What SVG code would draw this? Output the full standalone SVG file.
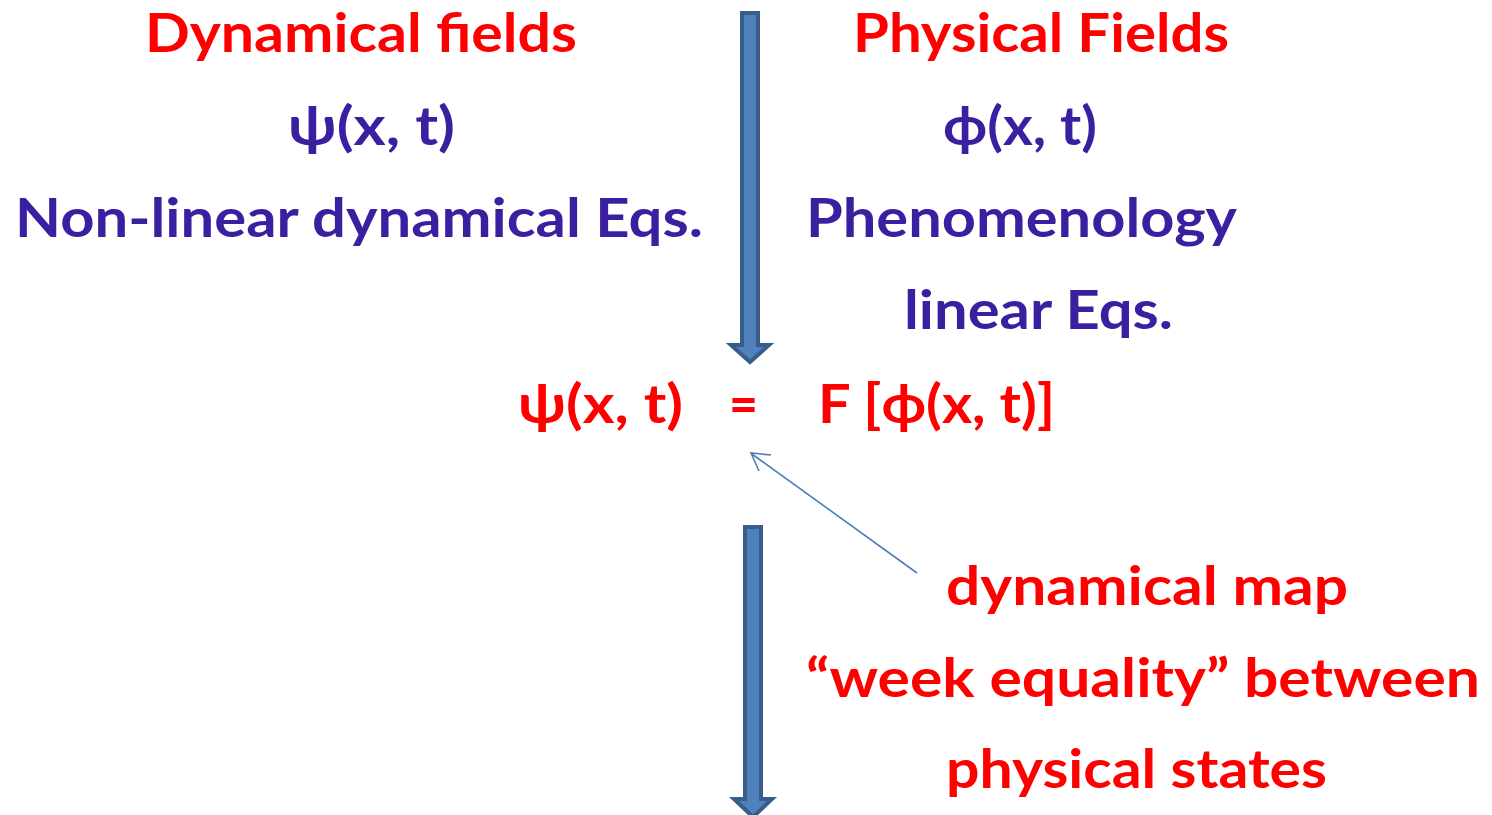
<svg xmlns="http://www.w3.org/2000/svg" width="1492" height="815" viewBox="0 0 1492 815">
<style>
text{font-family:Lato,"Open Sans","DejaVu Sans",sans-serif;font-weight:bold;font-size:54px}
.r{fill:#FF0000}
.b{fill:#3A1FA0}
.big{fill:#4F81BD;stroke:#385D8A;stroke-width:4;stroke-linejoin:miter}
.thin{fill:none;stroke:#4A7EBB;stroke-width:1.6}
</style>
<g id="connectors">
<polygon class="big" points="742,13 758,13 758,345 769,345 750,362 731,345 742,345"/>
<polygon class="big" points="745,527 761,527 761,799 772,799 753,817 734,799 745,799"/>
<line class="thin" x1="917" y1="573" x2="752" y2="454"/>
<polyline class="thin" points="771,455 751,453 759,471"/>
</g>
<g id="left">
<text class="r" x="145" y="52" textLength="432" lengthAdjust="spacingAndGlyphs">Dynamical fields</text>
<text class="b" x="288" y="145" textLength="167" lengthAdjust="spacingAndGlyphs">ψ(x, t)</text>
<text class="b" x="15" y="237" textLength="688" lengthAdjust="spacingAndGlyphs">Non-linear dynamical Eqs.</text>
</g>
<g id="right">
<text class="r" x="853" y="52" textLength="376" lengthAdjust="spacingAndGlyphs">Physical Fields</text>
<text class="b" x="943" y="145" textLength="154" lengthAdjust="spacingAndGlyphs">ϕ(x, t)</text>
<text class="b" x="806" y="237" textLength="431" lengthAdjust="spacingAndGlyphs">Phenomenology</text>
<text class="b" x="904" y="329" textLength="269" lengthAdjust="spacingAndGlyphs">linear Eqs.</text>
</g>
<g id="equation">
<text class="r" x="518" y="423" textLength="165" lengthAdjust="spacingAndGlyphs">ψ(x, t)</text>
<text class="r" x="729" y="423" textLength="29" lengthAdjust="spacingAndGlyphs">=</text>
<text class="r" x="818" y="423" textLength="237" lengthAdjust="spacingAndGlyphs">F [ϕ(x, t)]</text>
</g>
<g id="map">
<text class="r" x="946" y="605" textLength="402" lengthAdjust="spacingAndGlyphs">dynamical map</text>
<text class="r" x="806" y="697" textLength="674" lengthAdjust="spacingAndGlyphs">“week equality” between</text>
<text class="r" x="946" y="788" textLength="381" lengthAdjust="spacingAndGlyphs">physical states</text>
</g>
</svg>
